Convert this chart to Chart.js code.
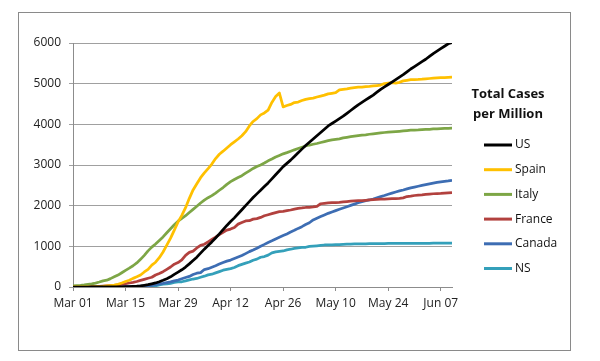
<!DOCTYPE html>
<html>
<head>
<meta charset="utf-8">
<script src="https://cdn.jsdelivr.net/npm/chart.js@4.4.1/dist/chart.umd.min.js"></script>
<style>
  html, body { margin: 0; padding: 0; background: #fff; }
</style>
</head>
<body>
<canvas id="casesChart" width="600" height="361"></canvas>
<script>
// day 0 = Mar 01, last day = Jun 10
const tickLabels = ["Mar 01", "Mar 15", "Mar 29", "Apr 12", "Apr 26", "May 10", "May 24", "Jun 07"];
const legendTitle = ["Total Cases", "per Million"];
const seriesNames = ["US", "Spain", "Italy", "France", "Canada", "NS"];

const us = [0, 0, 0, 0, 0, 1, 1, 1, 1, 2, 2, 3, 4, 5, 7, 10, 14, 19, 28, 42,
  58, 79, 100, 130, 165, 205, 250, 310, 366, 424, 490, 568, 650, 734, 833, 931, 1020, 1109, 1205, 1305,
  1410, 1514, 1610, 1700, 1800, 1900, 2000, 2100, 2200, 2290, 2380, 2470, 2560, 2660, 2760, 2860, 2960, 3040, 3120, 3210,
  3300, 3390, 3480, 3560, 3640, 3720, 3800, 3880, 3960, 4020, 4080, 4140, 4200, 4270, 4340, 4410, 4480, 4540, 4600, 4660,
  4720, 4790, 4860, 4920, 4980, 5040, 5100, 5160, 5220, 5290, 5360, 5420, 5480, 5540, 5600, 5670, 5740, 5800, 5860, 5920,
  5980, 6010];
const spain = [2, 2, 3, 4, 5, 6, 9, 12, 14, 25, 36, 48, 67, 100, 136, 166, 212, 250, 296, 370,
  435, 540, 609, 720, 860, 1030, 1200, 1400, 1600, 1760, 1950, 2180, 2387, 2539, 2688, 2805, 2912, 3024, 3158, 3264,
  3340, 3420, 3500, 3570, 3640, 3720, 3820, 3960, 4070, 4140, 4232, 4280, 4350, 4538, 4682, 4770, 4430, 4462, 4490, 4536,
  4547, 4585, 4614, 4633, 4644, 4672, 4694, 4718, 4748, 4763, 4779, 4845, 4858, 4872, 4890, 4904, 4915, 4915, 4929, 4934,
  4943, 4954, 4965, 5003, 5012, 5023, 5015, 5033, 5068, 5082, 5097, 5102, 5105, 5111, 5120, 5127, 5134, 5141, 5146, 5149,
  5155, 5162];
const italy = [28, 34, 41, 51, 64, 77, 97, 122, 152, 168, 206, 250, 293, 351, 410, 464, 522, 592, 680, 779,
  888, 980, 1059, 1146, 1232, 1335, 1433, 1532, 1618, 1686, 1753, 1832, 1909, 1985, 2065, 2136, 2196, 2246, 2310, 2379,
  2445, 2523, 2590, 2643, 2692, 2736, 2799, 2857, 2915, 2965, 3002, 3048, 3103, 3147, 3197, 3236, 3275, 3304, 3338, 3373,
  3404, 3436, 3468, 3491, 3511, 3529, 3553, 3576, 3598, 3616, 3629, 3642, 3665, 3680, 3696, 3709, 3724, 3735, 3742, 3756,
  3767, 3777, 3788, 3799, 3808, 3813, 3820, 3829, 3839, 3848, 3855, 3860, 3863, 3869, 3874, 3877, 3886, 3890, 3893, 3898,
  3903, 3906];
const france = [2, 3, 3, 4, 6, 9, 11, 17, 21, 27, 34, 43, 54, 67, 80, 98, 114, 135, 162, 188,
  216, 239, 296, 333, 377, 435, 492, 561, 600, 665, 778, 851, 882, 960, 1024, 1052, 1110, 1167, 1225, 1289,
  1347, 1400, 1424, 1464, 1546, 1585, 1625, 1631, 1669, 1681, 1711, 1751, 1778, 1803, 1830, 1852, 1859, 1877, 1893, 1916,
  1934, 1943, 1955, 1960, 1968, 1985, 2047, 2056, 2066, 2072, 2076, 2082, 2093, 2101, 2110, 2118, 2124, 2126, 2133, 2141,
  2147, 2152, 2158, 2161, 2168, 2172, 2175, 2181, 2191, 2225, 2234, 2250, 2259, 2265, 2275, 2284, 2293, 2298, 2301, 2307,
  2315, 2322];
const canada = [1, 1, 1, 1, 1, 1, 1, 2, 2, 2, 2, 3, 3, 5, 7, 11, 13, 17, 22, 26,
  35, 40, 57, 76, 88, 110, 128, 152, 171, 202, 233, 260, 308, 339, 354, 429, 451, 487, 522, 563,
  602, 636, 662, 700, 737, 774, 821, 870, 910, 955, 1004, 1048, 1096, 1136, 1181, 1225, 1264, 1305, 1353, 1394,
  1441, 1484, 1535, 1580, 1649, 1691, 1731, 1770, 1811, 1845, 1879, 1911, 1942, 1974, 2006, 2039, 2071, 2097, 2123, 2140,
  2165, 2195, 2224, 2249, 2280, 2309, 2337, 2362, 2386, 2413, 2437, 2458, 2478, 2500, 2519, 2538, 2555, 2572, 2586, 2597,
  2609, 2624];
const ns = [0, 0, 0, 0, 0, 0, 0, 0, 0, 0, 0, 0, 0, 0, 0, 3, 5, 7, 12, 14,
  15, 21, 28, 52, 69, 74, 91, 112, 124, 129, 149, 176, 196, 210, 240, 266, 297, 315, 347, 379,
  413, 434, 452, 481, 525, 557, 588, 615, 659, 685, 732, 748, 784, 839, 863, 878, 886, 914, 929, 949,
  961, 973, 977, 1000, 1006, 1013, 1022, 1033, 1034, 1035, 1039, 1041, 1048, 1053, 1056, 1059, 1061, 1062, 1063, 1064,
  1065, 1066, 1067, 1069, 1071, 1072, 1072, 1072, 1073, 1074, 1074, 1074, 1074, 1074, 1074, 1075, 1076, 1076, 1076, 1077,
  1077, 1077];

const colors = ["#000000", "#FFC000", "#7DA646", "#B2413E", "#3D6DB3", "#34A0BA"];
const days = us.map((v, i) => i);

// Rahmen um das ganze Diagramm
const framePlugin = {
    id: "frame",
    beforeDraw(chart) {
        const c = chart.ctx;
        c.save();
        c.fillStyle = "#ffffff";
        c.fillRect(0, 0, chart.width, chart.height);
        c.strokeStyle = "#8a8a8a";
        c.lineWidth = 1;
        c.strokeRect(18.5, 12.5, 552, 338);
        c.restore();
    }
};

// Legende rechts mit zweizeiligem Titel
const sideLegend = {
    id: "sideLegend",
    afterDraw(chart) {
        const c = chart.ctx;
        const cx = chart.chartArea.right + 56;
        c.save();
        c.fillStyle = "#111";
        c.textAlign = "center";
        c.textBaseline = "middle";
        c.font = "bold 13px 'Open Sans'";
        legendTitle.forEach((t, k) => c.fillText(t, cx, 94 + k * 20));
        c.font = "12px 'Open Sans'";
        c.textAlign = "left";
        chart.data.datasets.forEach((ds, k) => {
            const y = 145 + k * 24.7;
            c.strokeStyle = ds.borderColor;
            c.lineWidth = 3;
            c.beginPath();
            c.moveTo(cx - 24, y);
            c.lineTo(cx + 4, y);
            c.stroke();
            c.fillStyle = "#111";
            c.fillText(ds.label, cx + 7, y);
        });
        c.restore();
    }
};

const allSeries = [us, spain, italy, france, canada, ns];

const ctx = document.getElementById("casesChart").getContext("2d");
new Chart(ctx, {
    type: "line",
    data: {
        labels: days,
        datasets: allSeries.map((values, k) => ({
            label: seriesNames[k],
            data: values,
            borderColor: colors[k],
            backgroundColor: colors[k],
            borderWidth: 2.75,
            pointRadius: 0,
            tension: 0,
            fill: false,
            borderJoinStyle: "round"
        }))
    },
    options: {
        responsive: false,
        animation: false,
        devicePixelRatio: 1,
        events: [],
        layout: { padding: { left: 20, top: 43, right: 148, bottom: 34 } },
        plugins: {
            legend: { display: false },
            tooltip: { enabled: false }
        },
        scales: {
            x: {
                type: "linear",
                min: 0,
                max: days.length - 1,
                ticks: {
                    stepSize: 14,
                    includeBounds: false,
                    autoSkip: false,
                    maxRotation: 0,
                    padding: 5,
                    color: "#222",
                    font: { family: "'Open Sans'", size: 12 },
                    callback: v => tickLabels[v / 14]
                },
                grid: { drawOnChartArea: false, drawTicks: true, tickLength: 4, color: "#8c8c8c" },
                border: { color: "#8c8c8c" },
                afterFit: s => { s.height = 40; }
            },
            y: {
                min: 0,
                max: 6000,
                ticks: {
                    stepSize: 1000,
                    padding: 8,
                    color: "#222",
                    font: { family: "'Open Sans'", size: 12 },
                    callback: v => String(v)
                },
                grid: { color: "#a0a0a0", tickLength: 4 },
                border: { color: "#8c8c8c" },
                afterFit: s => { s.width = 53; }
            }
        }
    },
    plugins: [framePlugin, sideLegend]
});
</script>
</body>
</html>
